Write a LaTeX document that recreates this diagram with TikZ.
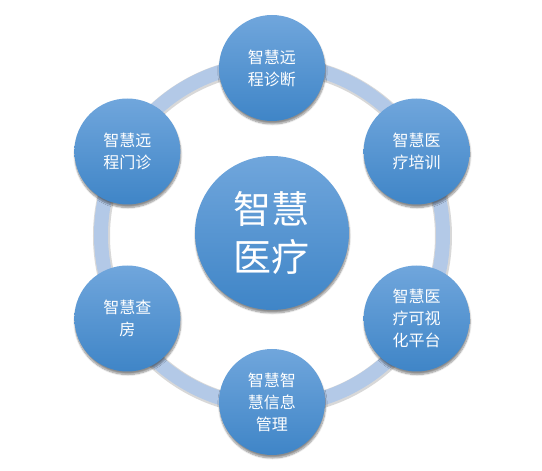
\documentclass[tikz,border=0pt]{standalone}
\usepackage{fontspec}
\newfontfamily\cjk{Noto Sans CJK SC}
\usetikzlibrary{shadows.blur}
\definecolor{ringblue}{HTML}{B3C9E7}
\definecolor{balltop}{HTML}{70A6DC}
\definecolor{ballbot}{HTML}{3F85C7}

\begin{document}
\begin{tikzpicture}[x=1pt,y=1pt,
  ball/.style={circle,minimum size=106pt,inner sep=0pt,
    top color=balltop,bottom color=ballbot,draw=none,
    text=white,align=center,font=\cjk\fontsize{16}{22}\selectfont,
    blur shadow={shadow xshift=0.5pt,shadow yshift=-3pt,
      shadow opacity=45,shadow blur steps=8}},
  bigball/.style={ball,minimum size=154pt,
    font=\cjk\fontsize{38}{48}\selectfont}]
  \useasboundingbox
    (-272,-236)
    rectangle
    (270,235);
  % ring
  \draw[line width=17pt,black!30,opacity=0.5]
    (0.5,-1)
    circle (171);
  \draw[line width=14pt,ringblue]
    (0,0)
    circle (171);
  % balls
  \node[bigball] (zhyl) at (0,2) {智慧\\医疗};
  \node[ball] (zdiag) at (90:167) {智慧远\\程诊断};
  \node[ball] (ztrain) at (30:167) {智慧医\\疗培训};
  \node[ball] (zvis) at (-30:167) {智慧医\\疗可视\\化平台};
  \node[ball] (zinfo) at (-90:167) {智慧智\\慧信息\\管理};
  \node[ball] (zround) at (210:167) {智慧查\\房};
  \node[ball] (zclinic) at (150:167) {智慧远\\程门诊};
\end{tikzpicture}
\end{document}
